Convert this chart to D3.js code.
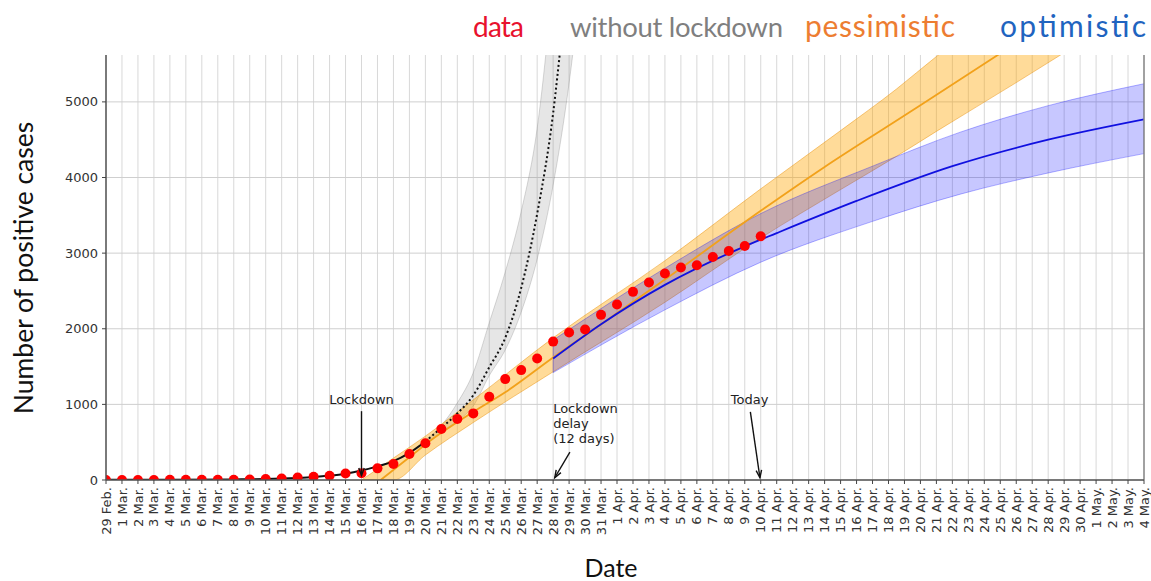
<!DOCTYPE html>
<html><head><meta charset="utf-8">
<script src="https://cdn.jsdelivr.net/npm/d3@7"></script>
<style>body{margin:0;background:#fff;}</style>
</head><body><svg id="c" width="1151" height="581"></svg>
<script>
// ---- tick labels (one per day, 29 Feb. -> 4 May.) ----
const tickLabels = ["29 Feb.",
 "1 Mar.","2 Mar.","3 Mar.","4 Mar.","5 Mar.","6 Mar.","7 Mar.","8 Mar.","9 Mar.","10 Mar.",
 "11 Mar.","12 Mar.","13 Mar.","14 Mar.","15 Mar.","16 Mar.","17 Mar.","18 Mar.","19 Mar.","20 Mar.",
 "21 Mar.","22 Mar.","23 Mar.","24 Mar.","25 Mar.","26 Mar.","27 Mar.","28 Mar.","29 Mar.","30 Mar.","31 Mar.",
 "1 Apr.","2 Apr.","3 Apr.","4 Apr.","5 Apr.","6 Apr.","7 Apr.","8 Apr.","9 Apr.","10 Apr.",
 "11 Apr.","12 Apr.","13 Apr.","14 Apr.","15 Apr.","16 Apr.","17 Apr.","18 Apr.","19 Apr.","20 Apr.",
 "21 Apr.","22 Apr.","23 Apr.","24 Apr.","25 Apr.","26 Apr.","27 Apr.","28 Apr.","29 Apr.","30 Apr.",
 "1 May.","2 May.","3 May.","4 May."];
const yTicks = [0,1000,2000,3000,4000,5000];

// ---- observed data (day index 0 = 29 Feb.) ----
const dataValues = [0,1,1,1,2,2,3,3,4,5,14,20,33,44,57,85,90,154,211,343,485,674,806,881,1101,1334,1453,1607,1830,1951,1991,2184,2321,2488,2612,2731,2810,2840,2950,3029,3095,3223];

// ---- fit before lockdown (solid) and without lockdown (dotted) ----
const fitDays = [0,4,8,10,11,12,13,14,15,16,17,18,19,20];
const fitVals = [2,4,8,13,19,28,40,58,84,125,180,250,360,510];
const noLockDays = [20,21,22,23,24,25,26,27,28,28.5,29];
const noLockVals = [510,690,880,1120,1490,1880,2540,3520,4850,5800,6800];
const grayDays  = [19,20,21,22,23,24,25,26,27,28,29,29.5];
const grayUpper = [360,520,720,1020,1420,2080,2750,3550,4650,6600,9000,10500];
const grayLower = [360,480,640,780,980,1380,1720,2220,2920,3900,5250,6100];

// ---- pessimistic ----
const pessDays = [17.2,19,20,23,25,28,31,35,41,45,50,55.7,60];
const pessVals = [0,300,470,900,1160,1620,2060,2650,3560,4140,4820,5600,6200];
const pessBandDays  = [16,18,20,23,28,35,41,46,49.5,52,57,60];
const pessUpper = [0,290,580,1060,1880,2900,3850,4620,5170,5600,6350,6800];
const pessLower = [0,0,330,760,1431,2350,3200,3840,4280,4610,5255,5650];

// ---- optimistic ----
const optDays = [28,31,35,40,42,47,53,59,65];
const optVals = [1607,2060,2580,3090,3265,3690,4150,4500,4769];
const optBandDays = [28,35,41,48,53.5,59,65];
const optUpper = [1850,2800,3523,4150,4600,4950,5240];
const optLower = [1420,2250,2880,3420,3780,4060,4316];

// ---- legend ----
const legendItems = ["data","without lockdown","pessimistic","optimistic"];
const legendColors = ["#e8112d","#7f7f7f","#ed7d31","#1f64c0"];
const legendX = [473,570,805,1000];
const legendW = [51,213,150,146];
const legendSize = [28,27.5,30,30];

(function(){
const svg = d3.select("#c");
const x = d3.scaleLinear().domain([0,65]).range([106,1144]);
const y = d3.scaleLinear().domain([0,5620]).range([480,55]);
const pTop = y.range()[1], pBottom = y.range()[0], pLeft = x.range()[0], pRight = x.range()[1];

svg.append("defs").append("clipPath").attr("id","plot")
  .append("rect").attr("x",pLeft).attr("y",pTop).attr("width",pRight-pLeft).attr("height",pBottom-pTop);

// grid
const dayIdx = d3.range(tickLabels.length);
svg.append("g").selectAll("line").data(dayIdx).join("line")
  .attr("x1",d=>x(d)).attr("x2",d=>x(d)).attr("y1",pTop).attr("y2",pBottom)
  .attr("stroke","#d8d8d8").attr("stroke-width",1);
svg.append("g").selectAll("line").data(yTicks).join("line")
  .attr("x1",pLeft).attr("x2",pRight).attr("y1",d=>y(d)).attr("y2",d=>y(d))
  .attr("stroke","#cfcfcf").attr("stroke-width",1);

const plot = svg.append("g").attr("clip-path","url(#plot)");
const zip = (a,b)=>a.map((d,i)=>[d,b[i]]);
const line = d3.line().x(d=>x(d[0])).y(d=>y(d[1])).curve(d3.curveMonotoneX);
const area = d3.area().x(d=>x(d[0])).y0(d=>y(d[1])).y1(d=>y(d[2])).curve(d3.curveMonotoneX);
const band = (days,lo,hi)=>days.map((d,i)=>[d,lo[i],hi[i]]);

// bands
plot.append("path").attr("d",area(band(grayDays,grayLower,grayUpper)))
  .attr("fill","rgba(128,128,128,0.2)").attr("stroke","rgba(128,128,128,0.3)").attr("stroke-width",1);
plot.append("path").attr("d",area(band(pessBandDays,pessLower,pessUpper)))
  .attr("fill","rgba(255,165,0,0.4)").attr("stroke","rgba(230,140,0,0.45)").attr("stroke-width",1);
plot.append("path").attr("d",area(band(optBandDays,optLower,optUpper)))
  .attr("fill","rgba(0,0,255,0.22)").attr("stroke","rgba(0,0,255,0.3)").attr("stroke-width",1);

// lines
plot.append("path").attr("d",line(zip(noLockDays,noLockVals)))
  .attr("fill","none").attr("stroke","#111").attr("stroke-width",2).attr("stroke-dasharray","2,2.6");
plot.append("path").attr("d",line(zip(fitDays,fitVals)))
  .attr("fill","none").attr("stroke","#111").attr("stroke-width",2);
plot.append("path").attr("d",line(zip(pessDays,pessVals)))
  .attr("fill","none").attr("stroke","#f2a11a").attr("stroke-width",1.8);
plot.append("path").attr("d",line(zip(optDays,optVals)))
  .attr("fill","none").attr("stroke","#1010e0").attr("stroke-width",1.8);

// data points
plot.append("g").selectAll("circle").data(dataValues).join("circle")
  .attr("cx",(d,i)=>x(i)).attr("cy",d=>y(d)).attr("r",5).attr("fill","#ff0000");

// axes spines
svg.append("line").attr("x1",pLeft).attr("x2",pLeft).attr("y1",pTop).attr("y2",pBottom).attr("stroke","#555").attr("stroke-width",1.5);
svg.append("line").attr("x1",pRight).attr("x2",pRight).attr("y1",pTop).attr("y2",pBottom).attr("stroke","#888").attr("stroke-width",1.5);
svg.append("line").attr("x1",pLeft).attr("x2",pRight).attr("y1",pBottom).attr("y2",pBottom).attr("stroke","#555").attr("stroke-width",1.5);

// x ticks and labels
const xg = svg.append("g");
xg.selectAll("line").data(dayIdx).join("line")
  .attr("x1",d=>x(d)).attr("x2",d=>x(d)).attr("y1",pBottom).attr("y2",pBottom+4).attr("stroke","#444");
xg.selectAll("text").data(dayIdx).join("text")
  .attr("transform",d=>`translate(${x(d)},${pBottom+7}) rotate(-90)`)
  .attr("text-anchor","end").attr("dy","0.35em")
  .attr("font-family","DejaVu Sans").attr("font-size",13).attr("fill","#333")
  .text(d=>tickLabels[d]);

// y ticks
const yg = svg.append("g");
yg.selectAll("line").data(yTicks).join("line")
  .attr("x1",pLeft-4).attr("x2",pLeft).attr("y1",d=>y(d)).attr("y2",d=>y(d)).attr("stroke","#444");
yg.selectAll("text").data(yTicks).join("text")
  .attr("x",pLeft-8).attr("y",d=>y(d)).attr("dy","0.35em").attr("text-anchor","end")
  .attr("font-family","DejaVu Sans").attr("font-size",13).attr("fill","#333")
  .text(d=>d);

// axis titles
svg.append("text").attr("x",611).attr("y",577).attr("text-anchor","middle")
  .attr("font-family","Lato").attr("font-size",25).attr("fill","#111").text("Date");
svg.append("text").attr("transform","translate(33,268) rotate(-90)").attr("text-anchor","middle")
  .attr("font-family","Lato").attr("font-size",26.5).attr("fill","#111").text("Number of positive cases");

// legend
svg.append("g").selectAll("text").data(legendItems).join("text")
  .attr("x",(d,i)=>legendX[i]).attr("y",37)
  .attr("textLength",(d,i)=>legendW[i]).attr("lengthAdjust","spacing")
  .attr("font-family","Lato").attr("font-size",(d,i)=>legendSize[i]).attr("fill",(d,i)=>legendColors[i])
  .text(d=>d);

// annotations
const ann = svg.append("g").attr("font-family","DejaVu Sans").attr("font-size",13).attr("fill","#222");
function arrow(x1,y1,x2,y2){
  ann.append("line").attr("x1",x1).attr("y1",y1).attr("x2",x2).attr("y2",y2).attr("stroke","#111").attr("stroke-width",1.4);
  const a = Math.atan2(y2-y1,x2-x1), L=8, s=0.35;
  const p1=[x2-L*Math.cos(a-s),y2-L*Math.sin(a-s)], p2=[x2-L*Math.cos(a+s),y2-L*Math.sin(a+s)];
  ann.append("path").attr("d",`M${p1}L${x2},${y2}L${p2}`).attr("fill","none").attr("stroke","#111").attr("stroke-width",1.4);
}
ann.append("text").attr("x",x(16)).attr("y",y(1000)).attr("text-anchor","middle").text("Lockdown");
arrow(x(16),y(910),x(16),y(60));
["Lockdown","delay","(12 days)"].forEach((t,i)=>
  ann.append("text").attr("x",x(28)).attr("y",y(885)+i*15).text(t));
arrow(x(29.05),y(370),x(28.1),y(30));
ann.append("text").attr("x",x(40.3)).attr("y",y(1000)).attr("text-anchor","middle").text("Today");
arrow(x(40.35),y(900),x(40.95),y(30));
})();
</script></body></html>
